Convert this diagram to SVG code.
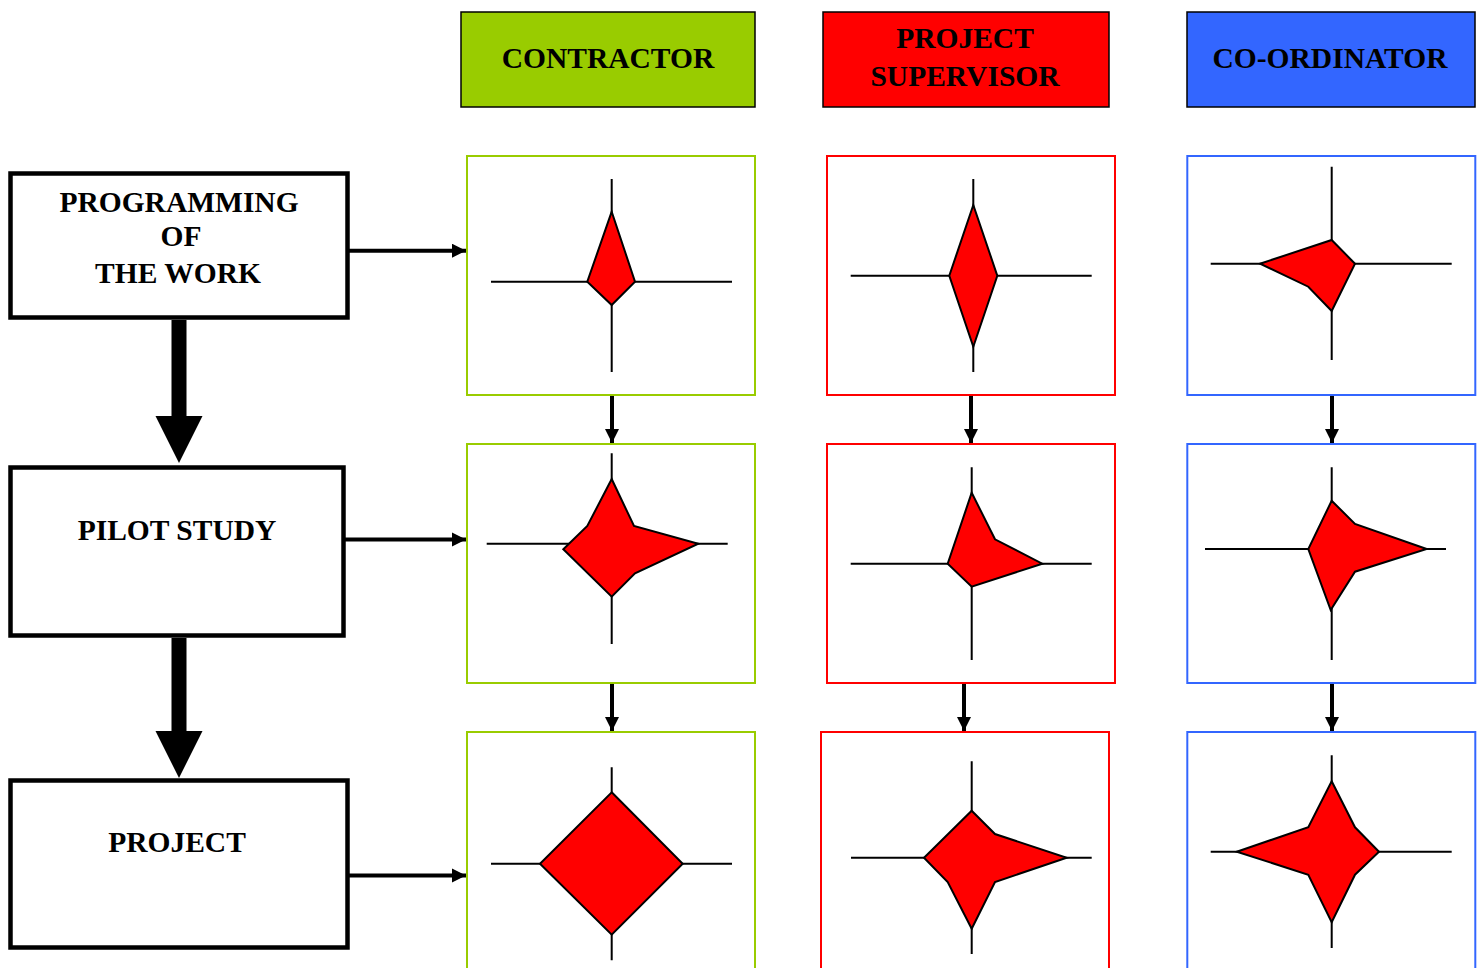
<svg xmlns="http://www.w3.org/2000/svg" width="1484" height="968" viewBox="0 0 1484 968">
  <style>
    .lbl { font-family: "Liberation Serif", "Times New Roman", serif; font-weight: bold; font-size: 29.5px; fill: #000; text-anchor: middle; }
    .stage { fill: #fff; stroke: #000; stroke-width: 4.5; }
    .head { stroke: #000; stroke-width: 1.5; }
    .cell-g { fill: #fff; stroke: #99cc00; stroke-width: 2; }
    .cell-r { fill: #fff; stroke: #ff0000; stroke-width: 2; }
    .cell-b { fill: #fff; stroke: #3366ff; stroke-width: 2; }
    .axis { stroke: #000; stroke-width: 2; fill: none; }
    .radar { fill: #ff0000; stroke: #000; stroke-width: 2; stroke-linejoin: miter; }
    .conn { stroke: #000; stroke-width: 4; fill: none; }
    .thick { fill: #000; }
  </style>
  <defs>
    <marker id="tip" viewBox="0 0 10 10" refX="10" refY="5" markerWidth="3.6" markerHeight="3.6" markerUnits="strokeWidth" orient="auto">
      <path d="M0,0 L10,5 L0,10 Z" fill="#000"/>
    </marker>
  </defs>
  <rect width="1484" height="968" fill="#fff"/>

  <!-- role headers -->
  <g id="hdr-contractor">
    <rect class="head" x="461" y="12" width="294" height="95" fill="#99cc00"/>
    <text class="lbl" x="608" y="68">CONTRACTOR</text>
  </g>
  <g id="hdr-supervisor">
    <rect class="head" x="823" y="12" width="286" height="95" fill="#ff0000"/>
    <text class="lbl" x="965" y="48">PROJECT</text>
    <text class="lbl" x="965" y="86">SUPERVISOR</text>
  </g>
  <g id="hdr-coordinator">
    <rect class="head" x="1187" y="12" width="288" height="95" fill="#3366ff"/>
    <text class="lbl" x="1330" y="68">CO-ORDINATOR</text>
  </g>

  <!-- stages -->
  <g id="stage-programming">
    <rect class="stage" x="10.5" y="173.5" width="337" height="144"/>
    <text class="lbl" x="179" y="212">PROGRAMMING</text>
    <text class="lbl" x="181" y="246">OF</text>
    <text class="lbl" x="178" y="283">THE WORK</text>
  </g>
  <g id="stage-pilot">
    <rect class="stage" x="10.5" y="467.5" width="333" height="168"/>
    <text class="lbl" x="177" y="540">PILOT STUDY</text>
  </g>
  <g id="stage-project">
    <rect class="stage" x="10.5" y="780.5" width="337" height="167"/>
    <text class="lbl" x="177" y="852">PROJECT</text>
  </g>

  <!-- contractor column -->
  <g id="c1">
    <rect class="cell-g" x="467" y="156" width="288" height="239"/>
    <path class="axis" d="M611.7,179 V372 M491,281.7 H732"/>
    <polygon class="radar" points="611.7,211.7 635,281.7 611.7,305 587.3,281.7"/>
  </g>
  <g id="c2">
    <rect class="cell-g" x="467" y="444" width="288" height="239"/>
    <path class="axis" d="M611.7,453.3 V644 M486.7,543.7 H727.7"/>
    <polygon class="radar" points="611.7,479 634,526 698.3,543.7 635,573.3 611.7,596.7 563.3,549.3 587.3,526"/>
  </g>
  <g id="c3">
    <rect class="cell-g" x="467" y="732" width="288" height="260"/>
    <path class="axis" d="M611.7,767.3 V960.3 M491,863.7 H732"/>
    <polygon class="radar" points="611.7,792.3 682.7,863.7 611.7,934.7 540,863.7"/>
  </g>

  <!-- project supervisor column -->
  <g id="s1">
    <rect class="cell-r" x="827" y="156" width="288" height="239"/>
    <path class="axis" d="M973.3,179 V372 M850.7,275.7 H1091.7"/>
    <polygon class="radar" points="973.3,205 997.3,275.7 973.3,346.7 949.3,275.7"/>
  </g>
  <g id="s2">
    <rect class="cell-r" x="827" y="444" width="288" height="239"/>
    <path class="axis" d="M971.7,467.3 V660 M850.7,563.7 H1091.7"/>
    <polygon class="radar" points="971.7,492.7 995,539.3 1042.3,563.7 971.7,586.7 947.7,563.7"/>
  </g>
  <g id="s3">
    <rect class="cell-r" x="821" y="732" width="288" height="260"/>
    <path class="axis" d="M971.7,761.3 V954 M851,857.7 H1091.7"/>
    <polygon class="radar" points="971.7,810.7 995,834 1066.7,857.7 995,882 971.7,928.7 947.7,882 924,857.7"/>
  </g>

  <!-- co-ordinator column -->
  <g id="k1">
    <rect class="cell-b" x="1187.3" y="156" width="288" height="239"/>
    <path class="axis" d="M1331.7,166.7 V360 M1210.7,263.7 H1451.7"/>
    <polygon class="radar" points="1331.7,240 1355,263.7 1331.7,311 1308.3,286.7 1260,263.7"/>
  </g>
  <g id="k2">
    <rect class="cell-b" x="1187.3" y="444" width="288" height="239"/>
    <path class="axis" d="M1331.7,467.3 V660 M1205,549 H1446"/>
    <polygon class="radar" points="1331.7,500.7 1355,524 1426.7,549 1355,571.7 1330.7,610 1308.3,549"/>
  </g>
  <g id="k3">
    <rect class="cell-b" x="1187.3" y="732" width="288" height="260"/>
    <path class="axis" d="M1331.7,755.3 V948 M1210.7,851.7 H1451.7"/>
    <polygon class="radar" points="1331.7,781.3 1355,827.3 1379,851.7 1355,874.7 1331.7,922.3 1308.3,874.7 1236.7,851.7 1308.3,827.3"/>
  </g>

  <!-- connectors -->
  <g id="connectors">
    <!-- stage to stage -->
    <polygon class="thick" points="171.5,320 186.5,320 186.5,416 202.5,416 179,463 155.5,416 171.5,416"/>
    <polygon class="thick" points="171.5,638 186.5,638 186.5,731 202.5,731 179,778 155.5,731 171.5,731"/>
    <!-- stage to contractor -->
    <line class="conn" x1="349" y1="250.7" x2="466" y2="250.7" marker-end="url(#tip)"/>
    <line class="conn" x1="345" y1="539.5" x2="466" y2="539.5" marker-end="url(#tip)"/>
    <line class="conn" x1="349" y1="875.5" x2="466" y2="875.5" marker-end="url(#tip)"/>
    <!-- cell to cell -->
    <line class="conn" x1="612" y1="396" x2="612" y2="443" marker-end="url(#tip)"/>
    <line class="conn" x1="612" y1="684" x2="612" y2="731" marker-end="url(#tip)"/>
    <line class="conn" x1="971" y1="396" x2="971" y2="443" marker-end="url(#tip)"/>
    <line class="conn" x1="964" y1="684" x2="964" y2="731" marker-end="url(#tip)"/>
    <line class="conn" x1="1332" y1="396" x2="1332" y2="443" marker-end="url(#tip)"/>
    <line class="conn" x1="1332" y1="684" x2="1332" y2="731" marker-end="url(#tip)"/>
  </g>
</svg>
